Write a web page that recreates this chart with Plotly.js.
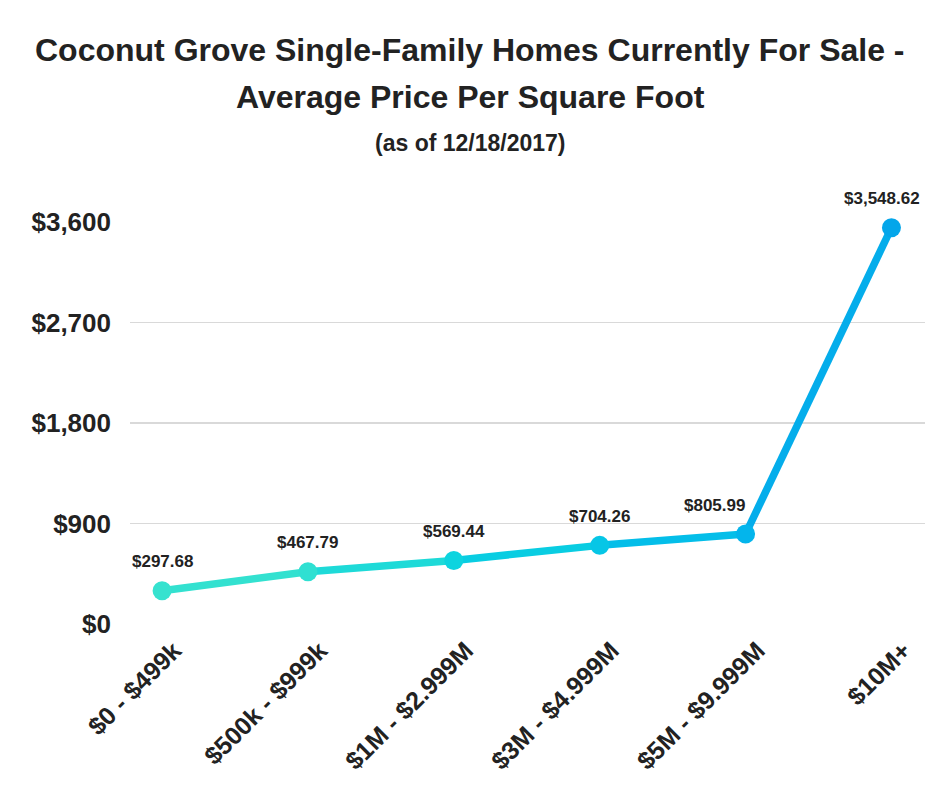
<!DOCTYPE html>
<html>
<head>
<meta charset="utf-8">
<script src="https://cdn.plot.ly/plotly-3.0.1.min.js"></script>
<style>
  body { margin: 0; background: #fff; }
  #chart { width: 940px; height: 788px; }
</style>
</head>
<body>
<div id="chart"></div>
<script>
// price ranges and average price per sq ft
const categories = ['$0 - $499k', '$500k - $999k', '$1M - $2.999M', '$3M - $4.999M', '$5M - $9.999M', '$10M+']
const pricePerSqFt = [297.68, 467.79, 569.44, 704.26, 805.99, 3548.62]
const valueLabels = ['$297.68', '$467.79', '$569.44', '$704.26', '$805.99', '$3,548.62']
const yTicks = [0, 900, 1800, 2700, 3600]
const yTickLabels = ['$0', '$900', '$1,800', '$2,700', '$3,600']

const pointColors = ['#36e2cf', '#2fe0d2', '#0dd4df', '#06c6e6', '#03b5ec', '#04a6ea']
const segColors = ['#33e1d0', '#1edad8', '#09cde2', '#04bee9', '#04adeb']

const ink = '#222222'
const font = 'Liberation Sans, Arial, sans-serif'

let traces = []

// each segment its own trace so the line can shift colour
for (let i = 0; i < pricePerSqFt.length - 1; i++) {
  traces.push({
    x: [categories[i], categories[i + 1]],
    y: [pricePerSqFt[i], pricePerSqFt[i + 1]],
    mode: 'lines',
    line: { color: segColors[i], width: 7.5 },
    cliponaxis: false,
    hoverinfo: 'skip',
    showlegend: false
  })
}

traces.push({
  x: categories,
  y: pricePerSqFt,
  mode: 'markers',
  marker: { color: pointColors, size: 19 },
  cliponaxis: false,
  showlegend: false
})

let annotations = pricePerSqFt.map((v, i) => ({
  x: categories[i],
  y: v,
  text: valueLabels[i],
  showarrow: false,
  yshift: 29,
  xshift: i === 4 ? -31 : (i === 5 ? -9 : 0),
  font: { family: font, size: 17, color: ink, weight: 'bold' }
}))

const titleX = (470 - 130) / 795
annotations.push(
  { xref: 'paper', yref: 'paper', x: titleX, y: (624 - 50) / 402, yanchor: 'middle', showarrow: false,
    text: '<b>Coconut Grove Single-Family Homes Currently For Sale -</b>',
    font: { family: font, size: 32, color: ink } },
  { xref: 'paper', yref: 'paper', x: titleX, y: (624 - 97) / 402, yanchor: 'middle', showarrow: false,
    text: '<b>Average Price Per Square Foot</b>',
    font: { family: font, size: 32, color: ink } },
  { xref: 'paper', yref: 'paper', x: titleX, y: (624 - 143) / 402, yanchor: 'middle', showarrow: false,
    text: '<b>(as of 12/18/2017)</b>',
    font: { family: font, size: 23, color: ink } }
)

const layout = {
  width: 940,
  height: 788,
  margin: { l: 130, r: 15, t: 222, b: 164 },
  paper_bgcolor: '#ffffff',
  plot_bgcolor: '#ffffff',
  font: { family: font, color: ink },
  xaxis: {
    type: 'category',
    range: [-0.22, 5.23],
    showgrid: false,
    zeroline: false,
    showline: false,
    tickangle: -45,
    ticks: '',
    ticklabelstandoff: 6,
    ticklabelshift: 12,
    tickfont: { family: font, size: 25, color: ink, weight: 'bold' }
  },
  yaxis: {
    range: [0, 3600],
    tickvals: yTicks,
    ticktext: yTickLabels,
    showgrid: true,
    gridcolor: '#d9d9d9',
    gridwidth: 1.5,
    zeroline: false,
    showline: false,
    ticks: '',
    ticklabelstandoff: 18,
    tickfont: { family: font, size: 26, color: ink, weight: 'bold' }
  },
  annotations: annotations
}

Plotly.newPlot('chart', traces, layout, { displayModeBar: false, staticPlot: true })
</script>
</body>
</html>
